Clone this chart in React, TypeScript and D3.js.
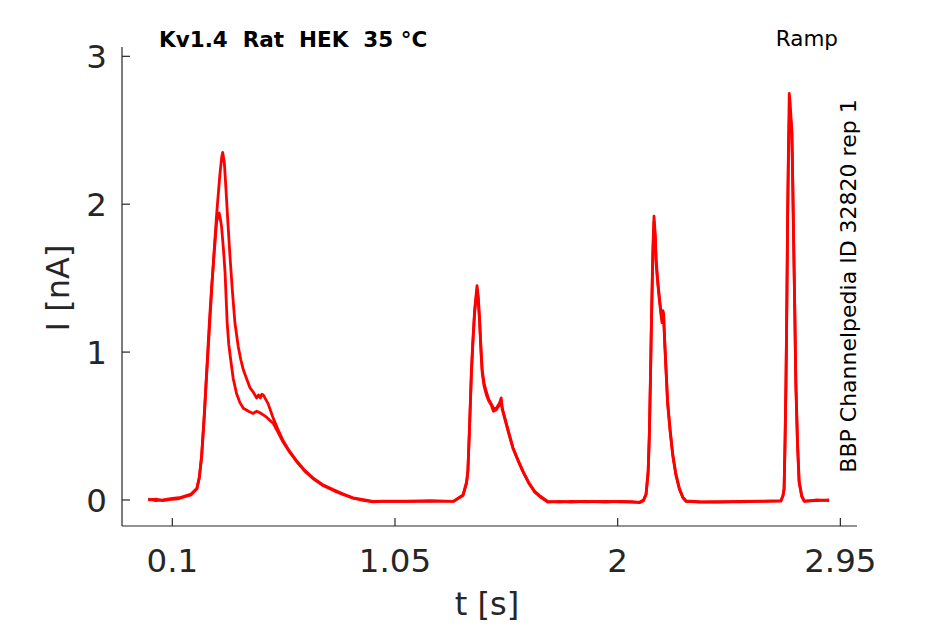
import * as d3 from "d3";
import * as React from "react";

// trace 1 (higher first peak)
const traceA: [number, number][] = [
  [-0.003, 0.005], [0.03, -0.005], [0.06, 0.0], [0.1, 0.01], [0.13, 0.015], [0.15, 0.025], [0.18, 0.04],
  [0.205, 0.08], [0.215, 0.15], [0.225, 0.29], [0.236, 0.55], [0.247, 0.86], [0.258, 1.15], [0.268, 1.42],
  [0.28, 1.72], [0.29, 1.95], [0.303, 2.2], [0.311, 2.32], [0.315, 2.35], [0.322, 2.28], [0.329, 2.1],
  [0.337, 1.88], [0.346, 1.65], [0.356, 1.42], [0.367, 1.2], [0.381, 1.04], [0.392, 0.95], [0.403, 0.88],
  [0.417, 0.82], [0.431, 0.76], [0.445, 0.73], [0.46, 0.69], [0.468, 0.71], [0.475, 0.69], [0.482, 0.715],
  [0.488, 0.71], [0.495, 0.69], [0.509, 0.65], [0.52, 0.6], [0.53, 0.555], [0.55, 0.48], [0.573, 0.4],
  [0.6, 0.33], [0.63, 0.265], [0.665, 0.2], [0.7, 0.15], [0.74, 0.105], [0.786, 0.07], [0.83, 0.04],
  [0.871, 0.015], [0.92, 0.0], [0.956, -0.01], [1.0, -0.008], [1.1, -0.01], [1.2, -0.005], [1.3, -0.01],
  [1.34, 0.035], [1.355, 0.12], [1.361, 0.2], [1.368, 0.5], [1.376, 0.88], [1.383, 1.1], [1.39, 1.29],
  [1.4, 1.45], [1.405, 1.38], [1.411, 1.22], [1.417, 1.02], [1.422, 0.88], [1.43, 0.79], [1.44, 0.73],
  [1.45, 0.68], [1.461, 0.65], [1.47, 0.62], [1.482, 0.62], [1.49, 0.64], [1.497, 0.66], [1.503, 0.69],
  [1.508, 0.62], [1.518, 0.56], [1.535, 0.46], [1.553, 0.355], [1.575, 0.27], [1.596, 0.195], [1.62, 0.12],
  [1.645, 0.06], [1.67, 0.025], [1.702, -0.01], [1.75, -0.015], [1.8, -0.01], [1.866, -0.012], [1.95, -0.01],
  [2.008, -0.012], [2.06, -0.015], [2.093, -0.015], [2.11, 0.0], [2.121, 0.04], [2.13, 0.2], [2.135, 0.45],
  [2.14, 0.85], [2.143, 1.13], [2.15, 1.69], [2.155, 1.92], [2.16, 1.8], [2.164, 1.63], [2.17, 1.5],
  [2.178, 1.37], [2.185, 1.27], [2.189, 1.22], [2.193, 1.28], [2.196, 1.26], [2.2, 1.1], [2.206, 0.9],
  [2.213, 0.67], [2.224, 0.47], [2.235, 0.31], [2.248, 0.18], [2.263, 0.08], [2.278, 0.02], [2.292, -0.007],
  [2.35, -0.012], [2.434, -0.015], [2.519, -0.01], [2.6, -0.008], [2.696, -0.005], [2.705, 0.03], [2.71, 0.08],
  [2.714, 0.4], [2.718, 0.81], [2.722, 1.4], [2.725, 1.94], [2.729, 2.45], [2.732, 2.75], [2.736, 2.68],
  [2.739, 2.6], [2.743, 2.5], [2.746, 2.25], [2.749, 1.94], [2.755, 1.35], [2.76, 0.81], [2.767, 0.4],
  [2.774, 0.13], [2.785, 0.03], [2.796, -0.007], [2.85, -0.005], [2.902, 0.0],
];

// trace 2 (lower first peak)
const traceB: [number, number][] = [
  [-0.003, 0.0], [0.03, 0.005], [0.06, -0.005], [0.1, 0.005], [0.13, 0.01], [0.15, 0.02], [0.18, 0.035],
  [0.205, 0.075], [0.215, 0.15], [0.225, 0.3], [0.236, 0.57], [0.247, 0.88], [0.258, 1.2], [0.268, 1.45],
  [0.28, 1.7], [0.289, 1.88], [0.297, 1.93], [0.3, 1.94], [0.305, 1.9], [0.31, 1.85], [0.318, 1.7],
  [0.325, 1.54], [0.334, 1.2], [0.341, 1.05], [0.349, 0.95], [0.36, 0.82], [0.374, 0.72], [0.388, 0.66],
  [0.403, 0.62], [0.425, 0.6], [0.445, 0.585], [0.46, 0.6], [0.474, 0.59], [0.488, 0.575], [0.502, 0.56],
  [0.515, 0.54], [0.53, 0.52], [0.55, 0.46], [0.573, 0.39], [0.6, 0.325], [0.63, 0.26], [0.665, 0.195],
  [0.7, 0.145], [0.74, 0.1], [0.786, 0.065], [0.83, 0.035], [0.871, 0.012], [0.92, -0.005], [0.956, -0.012],
  [1.0, -0.01], [1.1, -0.008], [1.2, -0.01], [1.3, -0.008], [1.34, 0.03], [1.355, 0.11], [1.361, 0.19],
  [1.368, 0.48], [1.376, 0.85], [1.383, 1.08], [1.39, 1.27], [1.4, 1.42], [1.405, 1.36], [1.411, 1.2],
  [1.417, 1.0], [1.422, 0.86], [1.43, 0.77], [1.44, 0.71], [1.45, 0.67], [1.461, 0.64], [1.47, 0.6],
  [1.482, 0.61], [1.49, 0.63], [1.497, 0.64], [1.503, 0.67], [1.508, 0.61], [1.518, 0.55], [1.535, 0.45],
  [1.553, 0.35], [1.575, 0.265], [1.596, 0.19], [1.62, 0.115], [1.645, 0.055], [1.67, 0.02], [1.702, -0.015],
  [1.75, -0.01], [1.8, -0.015], [1.866, -0.01], [1.95, -0.014], [2.008, -0.01], [2.06, -0.012], [2.093, -0.018],
  [2.11, -0.005], [2.121, 0.035], [2.13, 0.18], [2.135, 0.42], [2.14, 0.82], [2.143, 1.1], [2.15, 1.65],
  [2.155, 1.88], [2.16, 1.78], [2.164, 1.6], [2.17, 1.48], [2.178, 1.35], [2.185, 1.25], [2.189, 1.2],
  [2.193, 1.25], [2.196, 1.24], [2.2, 1.08], [2.206, 0.88], [2.213, 0.65], [2.224, 0.46], [2.235, 0.3],
  [2.248, 0.17], [2.263, 0.075], [2.278, 0.015], [2.292, -0.01], [2.35, -0.015], [2.434, -0.012],
  [2.519, -0.012], [2.6, -0.01], [2.696, -0.008], [2.705, 0.025], [2.71, 0.07], [2.714, 0.38], [2.718, 0.78],
  [2.722, 1.35], [2.725, 1.88], [2.729, 2.35], [2.733, 2.62], [2.736, 2.6], [2.739, 2.56], [2.743, 2.48],
  [2.746, 2.22], [2.749, 1.9], [2.755, 1.32], [2.76, 0.78], [2.767, 0.38], [2.774, 0.12], [2.785, 0.025],
  [2.796, -0.01], [2.85, 0.0], [2.902, -0.005],
];

const traces = [traceA, traceB];
const xTicks = [0.1, 1.05, 2, 2.95];
const yTicks = [0, 1, 2, 3];

const W = 945;
const H = 624;
const left = 122, right = 857, top = 47, bottom = 526;
const font = "'DejaVu Sans', sans-serif";
const axisColor = "#262626";

export default function App() {
  const x = d3.scaleLinear().domain([-0.1146, 3.021]).range([left, right]);
  const y = d3.scaleLinear().domain([-0.176, 3.063]).range([bottom, top]);
  const line = d3
    .line<[number, number]>()
    .x((d) => x(d[0]))
    .y((d) => y(d[1]));

  return (
    <svg
      width={W}
      height={H}
      style={{ position: "fixed", left: 0, top: 0, background: "#fff" }}
      fontFamily={font}
    >
      <rect width={W} height={H} fill="#fff" />
      {traces.map((t, i) => (
        <path
          key={i}
          d={line(t) || ""}
          fill="none"
          stroke="#ff0000"
          strokeWidth={2.8}
          strokeLinejoin="round"
        />
      ))}
      {/* axes */}
      <line x1={left} x2={right} y1={bottom} y2={bottom} stroke={axisColor} strokeWidth={1.2} />
      <line x1={left} x2={left} y1={top} y2={bottom} stroke={axisColor} strokeWidth={1.2} />
      {xTicks.map((t) => (
        <g key={t}>
          <line x1={x(t)} x2={x(t)} y1={bottom} y2={bottom - 8} stroke={axisColor} strokeWidth={1.2} />
          <text x={x(t)} y={572} textAnchor="middle" fontSize={32.5} fill={axisColor}>
            {String(t)}
          </text>
        </g>
      ))}
      {yTicks.map((t) => (
        <g key={t}>
          <line x1={left} x2={left + 8} y1={y(t)} y2={y(t)} stroke={axisColor} strokeWidth={1.2} />
          <text x={107} y={y(t) + 12} textAnchor="end" fontSize={32.5} fill={axisColor}>
            {String(t)}
          </text>
        </g>
      ))}
      <text x={487} y={615} textAnchor="middle" fontSize={32} fill={axisColor}>
        t [s]
      </text>
      <text
        transform={`translate(69,288) rotate(-90)`}
        textAnchor="middle"
        fontSize={32}
        fill={axisColor}
      >
        I [nA]
      </text>
      <text x={159} y={47} fontSize={21.5} fontWeight="bold" fill="#000" style={{ whiteSpace: "pre" }}>
        {"Kv1.4  Rat  HEK  35 °C"}
      </text>
      <text x={838} y={46} textAnchor="end" fontSize={21.5} fill="#000">
        Ramp
      </text>
      <text
        transform={`translate(856,286) rotate(-90)`}
        textAnchor="middle"
        fontSize={22}
        fill="#000"
      >
        BBP Channelpedia ID 32820 rep 1
      </text>
    </svg>
  );
}
